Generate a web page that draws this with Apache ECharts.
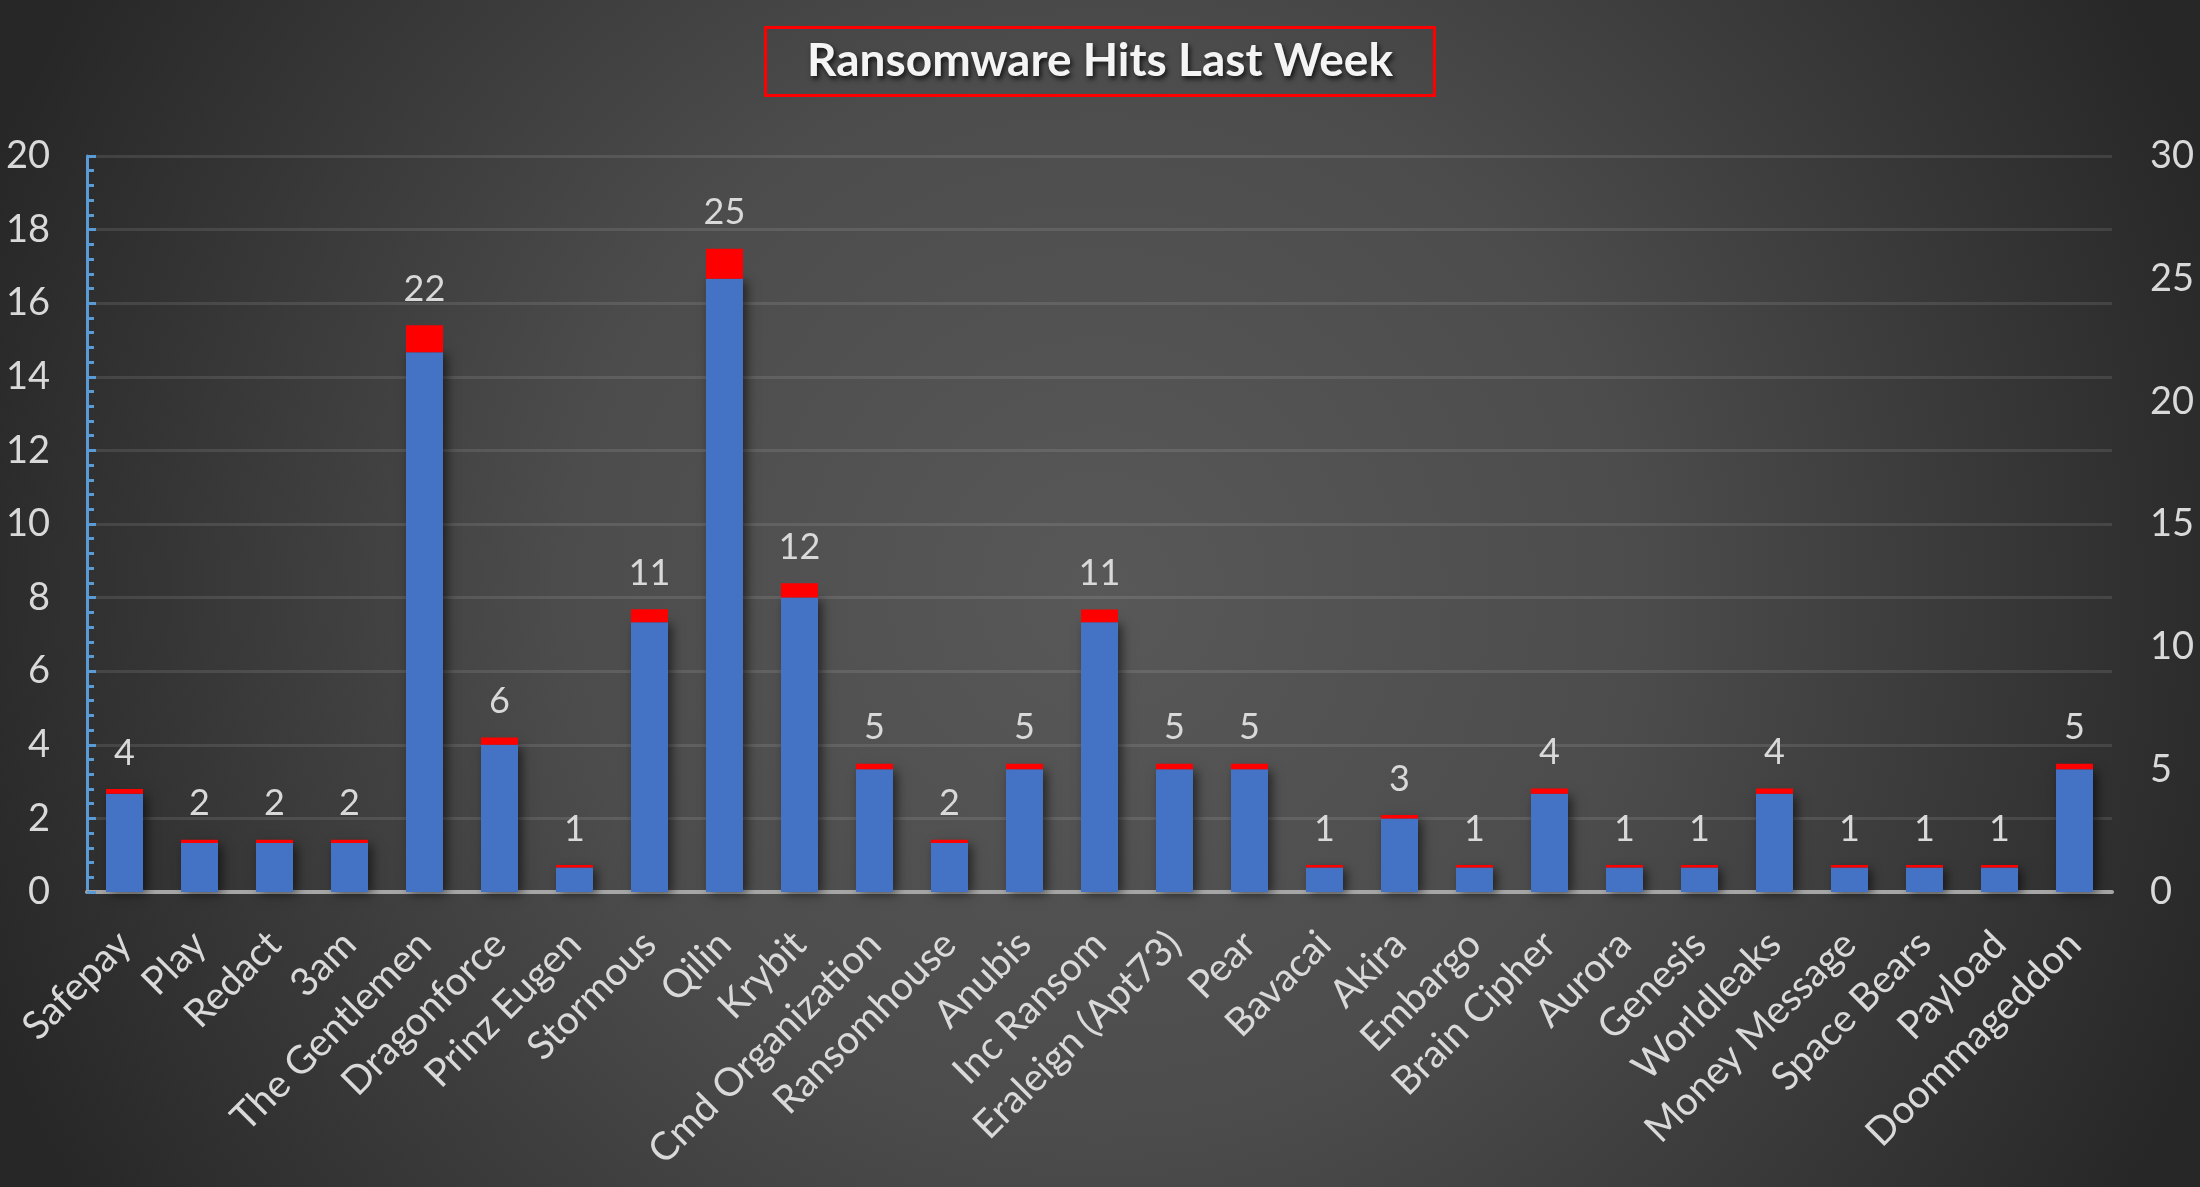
<!DOCTYPE html>
<html>
<head>
<meta charset="utf-8">
<title>Ransomware Hits Last Week</title>
<script src="https://cdn.jsdelivr.net/npm/echarts@6/dist/echarts.min.js"></script>
<style>
	html, body { margin: 0; padding: 0; background: #333; }
	#ransom-chart { width: 2200px; height: 1187px; }
</style>
</head>
<body>
<div id="ransom-chart"></div>
<script>
// 数据
var groupNames = ['Safepay', 'Play', 'Redact', '3am', 'The Gentlemen', 'Dragonforce', 'Prinz Eugen',
	'Stormous', 'Qilin', 'Krybit', 'Cmd Organization', 'Ransomhouse', 'Anubis', 'Inc Ransom',
	'Eraleign (Apt73)', 'Pear', 'Bavacai', 'Akira', 'Embargo', 'Brain Cipher', 'Aurora', 'Genesis',
	'Worldleaks', 'Money Message', 'Space Bears', 'Payload', 'Doommageddon'];
var hitCounts = [4, 2, 2, 2, 22, 6, 1, 11, 25, 12, 5, 2, 5, 11, 5, 5, 1, 3, 1, 4, 1, 1, 4, 1, 1, 1, 5];
// red cap on top of each bar
var capValues = [0.2, 0.13, 0.13, 0.13, 1.1, 0.3, 0.1, 0.53, 1.22, 0.58, 0.23, 0.13, 0.23, 0.52,
	0.23, 0.23, 0.1, 0.14, 0.1, 0.22, 0.1, 0.1, 0.22, 0.1, 0.1, 0.1, 0.23];
var leftTicks = [0, 20, 2];
var rightTicks = [0, 30, 5];

var fontName = 'Lato, "Open Sans", sans-serif';
var labelColor = '#d9d9d9';

var chart = document.getElementById('ransom-chart');
var echart = echarts.init(chart);
var option = {
	backgroundColor: {
		type: 'radial', x: 0.5, y: 0.5, r: 1.0,
		colorStops: [
			{ offset: 0, color: '#585858' },
			{ offset: 0.45, color: '#4c4c4c' },
			{ offset: 1, color: '#272727' }
		]
	},
	animation: false,
	title: {
		text: 'Ransomware Hits Last Week',
		left: 'center',
		top: 27,
		padding: [11, 42, 12, 42],
		borderColor: '#ff0000',
		borderWidth: 3,
		textStyle: {
			color: '#f4f4f4',
			fontFamily: fontName,
			fontWeight: 'bold',
			fontSize: 46,
			textShadowColor: 'rgba(0,0,0,0.75)',
			textShadowBlur: 5,
			textShadowOffsetX: 2,
			textShadowOffsetY: 3
		}
	},
	grid: {
		left: 87,
		right: 88,
		top: 156,
		bottom: 295,
		containLabel: false
	},
	xAxis: [
		{
			type: 'category',
			data: groupNames,
			axisLine: { show: true, lineStyle: { color: '#a6a6a6', width: 4 } },
			axisTick: { show: false },
			axisLabel: {
				rotate: 45,
				interval: 0,
				margin: 46,
				color: labelColor,
				fontFamily: fontName,
				fontSize: 39
			}
		}
	],
	yAxis: [
		{
			type: 'value',
			min: leftTicks[0],
			max: leftTicks[1],
			interval: leftTicks[2],
			axisLine: { show: true, lineStyle: { color: '#5b9bd5', width: 3 } },
			axisTick: { show: true, inside: true, length: 9, lineStyle: { color: '#5b9bd5', width: 3 } },
			minorTick: { show: true, splitNumber: 5, length: 7, lineStyle: { color: '#5b9bd5', width: 3 } },
			splitLine: { show: true, lineStyle: { color: 'rgba(255,255,255,0.1)', width: 3 } },
			axisLabel: {
				margin: 37,
				color: labelColor,
				fontFamily: fontName,
				fontSize: 38
			}
		},
		{
			type: 'value',
			min: rightTicks[0],
			max: rightTicks[1],
			interval: rightTicks[2],
			position: 'right',
			axisLine: { show: false },
			axisTick: { show: false },
			splitLine: { show: false },
			axisLabel: {
				margin: 38,
				color: labelColor,
				fontFamily: fontName,
				fontSize: 38
			}
		}
	],
	series: [
		{
			name: 'Hits',
			type: 'bar',
			yAxisIndex: 1,
			stack: 'hits',
			barWidth: 37,
			itemStyle: {
				color: '#4472c4',
				shadowColor: 'rgba(0,0,0,0.55)',
				shadowBlur: 10,
				shadowOffsetX: 4,
				shadowOffsetY: 2
			},
			data: hitCounts
		},
		{
			name: 'Cap',
			type: 'bar',
			yAxisIndex: 1,
			stack: 'hits',
			barWidth: 37,
			itemStyle: { color: '#ff0000' },
			label: {
				show: true,
				position: 'top',
				distance: 18,
				color: labelColor,
				fontFamily: fontName,
				fontSize: 36,
				formatter: function (p) { return hitCounts[p.dataIndex]; }
			},
			data: capValues
		}
	]
};
echart.setOption(option);
</script>
</body>
</html>
